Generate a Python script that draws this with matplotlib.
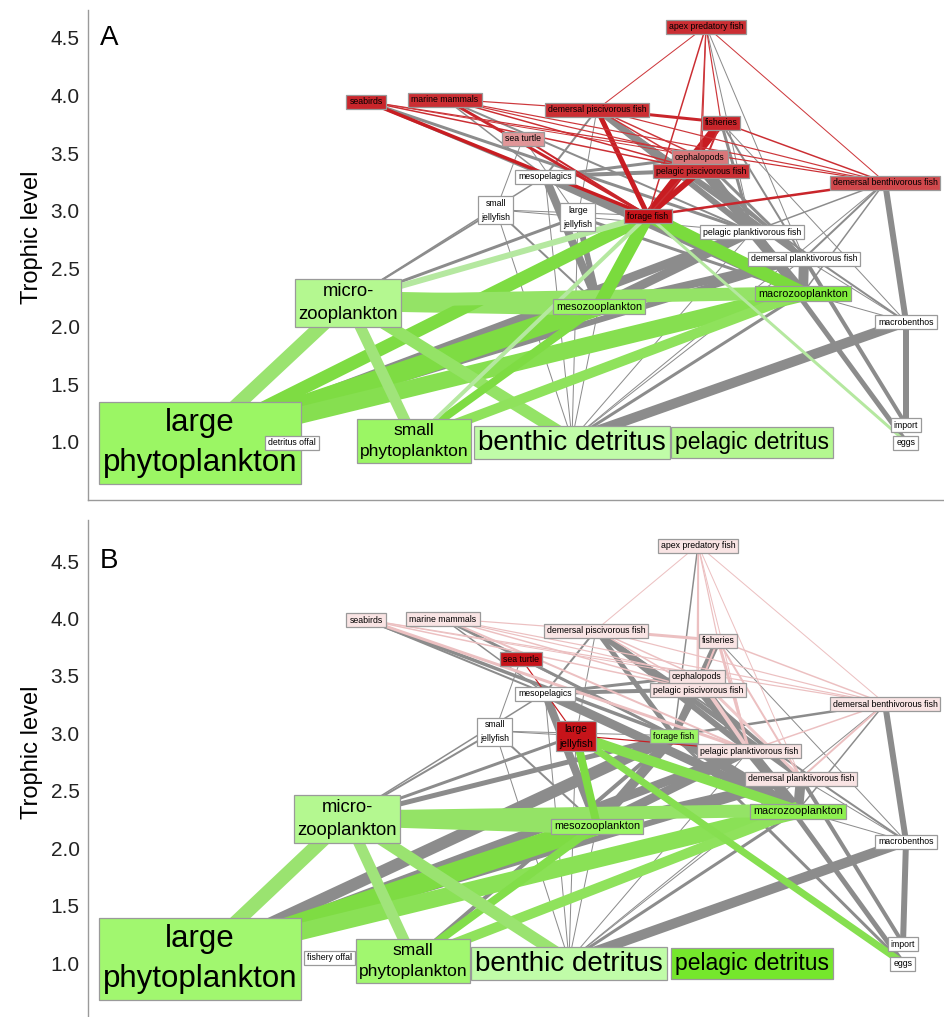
import matplotlib
matplotlib.use("Agg")
import matplotlib.pyplot as plt
from matplotlib.patches import Rectangle
from matplotlib.transforms import offset_copy, Bbox

# ---------------- data ----------------
node_keys = ["apex", "sbrd", "mamm", "dpis", "fish", "turt", "ceph", "ppis", "mpel",
             "dben", "sjel", "ljel", "forf", "ppla", "dpla", "micz", "mesz", "macz",
             "mben", "lphy", "offl", "sphy", "bdet", "pdet", "impo", "eggs"]

labels_a = ["apex predatory fish", "seabirds", "marine mammals", "demersal piscivorous fish",
            "fisheries", "sea turtle", "cephalopods", "pelagic piscivorous fish", "mesopelagics",
            "demersal benthivorous fish", "small\njellyfish", "large\njellyfish", "forage fish",
            "pelagic planktivorous fish", "demersal planktivorous fish", "micro-\nzooplankton",
            "mesozooplankton", "macrozooplankton", "macrobenthos", "large\nphytoplankton",
            "detritus offal", "small\nphytoplankton", "benthic detritus", "pelagic detritus",
            "import", "eggs"]
labels_b = labels_a[:20] + ["fishery offal"] + labels_a[21:]

trophic_a = [4.60, 3.95, 3.97, 3.88, 3.77, 3.63, 3.47, 3.35, 3.30, 3.25, 3.01, 2.95, 2.96,
             2.82, 2.59, 2.22, 2.18, 2.29, 2.04, 1.02, 1.00, 1.02, 1.02, 1.01, 1.15, 1.00]
trophic_b = [4.64, 3.99, 4.00, 3.90, 3.81, 3.65, 3.50, 3.38, 3.35, 3.26, 3.02, 2.98, 2.98,
             2.85, 2.61, 2.27, 2.20, 2.33, 2.06, 1.06, 1.05, 1.03, 1.02, 1.01, 1.17, 1.00]

# relative impact of the perturbation on each group (negative = decrease, positive = increase)
impact_a = [-0.85, -0.9, -0.85, -0.85, -0.9, -0.45, -0.55, -0.85, 0, -0.7, 0, 0, -1.0,
            0, 0, 0.35, 0.55, 0.85, 0, 0.55, 0, 0.55, 0.25, 0.35, 0, 0]
impact_b = [-0.1, -0.1, -0.1, -0.1, -0.1, -1.0, -0.1, -0.1, 0, -0.1, 0, -1.0, 0.55,
            -0.1, -0.1, 0.35, 0.55, 0.7, 0, 0.5, 0, 0.5, 0.25, 0.95, 0, 0]

# flows: (prey, predator, flow in panel A, flow in panel B)
links = [
    ("lphy", "micz", 14, 14), ("lphy", "mesz", 20, 20), ("lphy", "macz", 17, 17),
    ("lphy", "forf", 13, 12), ("micz", "mesz", 20, 18), ("micz", "macz", 13, 13),
    ("micz", "forf", 6, 5), ("sphy", "micz", 11, 11), ("sphy", "mesz", 8, 8),
    ("sphy", "macz", 10, 10), ("sphy", "forf", 4, 4), ("mesz", "forf", 13, 10),
    ("macz", "forf", 13, 10), ("micz", "bdet", 12, 12), ("eggs", "forf", 3, 3),
    ("forf", "sbrd", 3.5, 3.5), ("forf", "mamm", 3, 3), ("forf", "dpis", 5, 5),
    ("forf", "fish", 9, 7), ("forf", "ppis", 6, 6), ("forf", "dben", 2.5, 2.5),
    ("forf", "apex", 1.5, 1.5), ("forf", "turt", 2, 1.5), ("forf", "ceph", 1.5, 1.5),
    ("ceph", "apex", 1.2, 1.2), ("ppis", "apex", 1.2, 1.2), ("dpis", "apex", 1.0, 1.0),
    ("dben", "apex", 1.0, 1.0), ("apex", "fish", 1.2, 1.2), ("dpis", "fish", 3, 3),
    ("dben", "fish", 1.5, 1.5), ("ppis", "sbrd", 1.5, 1.5), ("dben", "sbrd", 1.2, 1.2),
    ("ppis", "mamm", 1.5, 1.5), ("ceph", "mamm", 1.2, 1.2), ("dpis", "mamm", 1.2, 1.2),
    ("dben", "mamm", 1.2, 1.2), ("ceph", "dpis", 1.5, 1.5), ("ppis", "dpis", 1.5, 1.5),
    ("dben", "dpis", 1.2, 1.2), ("ceph", "sbrd", 1.0, 1.0), ("ppis", "fish", 2, 2),
    ("bdet", "mben", 10, 10), ("mben", "dben", 6, 6), ("impo", "mben", 6, 6),
    ("mesz", "mpel", 8, 8), ("macz", "mpel", 9, 9), ("mesz", "ppla", 9, 9),
    ("macz", "ppla", 10, 10), ("mesz", "dpla", 8, 8), ("macz", "dpla", 10, 10),
    ("lphy", "ppla", 9, 9), ("lphy", "dpla", 6, 6), ("micz", "ljel", 3, 3),
    ("mesz", "ljel", 6, 8), ("micz", "sjel", 2, 2), ("mesz", "sjel", 2, 2),
    ("macz", "ljel", 3, 10), ("bdet", "sjel", 1, 1), ("bdet", "ljel", 1, 1),
    ("bdet", "mpel", 1, 1), ("bdet", "mesz", 1, 1), ("bdet", "macz", 3, 3),
    ("bdet", "dpla", 1, 1), ("bdet", "ppla", 1, 1), ("bdet", "dben", 1, 1),
    ("mpel", "ppis", 4, 4), ("mpel", "dpis", 2, 2), ("mpel", "sbrd", 2, 2),
    ("mpel", "mamm", 1.5, 1.5), ("mpel", "ceph", 3, 3), ("sjel", "ljel", 1, 1),
    ("sjel", "forf", 1, 1), ("sjel", "turt", 1, 1), ("ljel", "turt", 1, 1.2),
    ("ljel", "ppla", 1, 1.2), ("eggs", "ljel", 0, 7),
    ("ppla", "ppis", 6, 6), ("ppla", "dpis", 6, 6), ("ppla", "ceph", 4, 4),
    ("ppla", "mamm", 2, 2), ("ppla", "sbrd", 3, 3), ("ppla", "apex", 1, 1),
    ("ppla", "fish", 3, 3), ("ppla", "dben", 1.5, 1.5), ("dpla", "dpis", 5, 5),
    ("dpla", "ppis", 4, 4), ("dpla", "ceph", 3, 3), ("dpla", "dben", 2, 2),
    ("dpla", "apex", 1, 1), ("dpla", "fish", 2, 2), ("mben", "dpis", 2, 2),
    ("mben", "fish", 1, 1), ("macz", "ceph", 4, 4), ("macz", "dben", 1.5, 1.5),
    ("macz", "mben", 1, 1), ("eggs", "ppla", 5, 5), ("impo", "dpla", 4, 4),
    ("macz", "ppis", 3, 3), ("micz", "mpel", 1.5, 1.5), ("ljel", "dpis", 1, 1),
    ("mben", "dpla", 1, 1),
]

# change in each flow (0 = unchanged)
change_a = {
    ("lphy", "micz"): 0.45, ("lphy", "mesz"): 0.75, ("lphy", "macz"): 0.65,
    ("lphy", "forf"): 0.75, ("micz", "mesz"): 0.5, ("micz", "macz"): 0.5,
    ("micz", "forf"): 0.2, ("sphy", "micz"): 0.4, ("sphy", "mesz"): 0.75,
    ("sphy", "macz"): 0.55, ("sphy", "forf"): 0.2, ("mesz", "forf"): 0.8,
    ("macz", "forf"): 0.8, ("micz", "bdet"): 0.5, ("eggs", "forf"): 0.2,
    ("forf", "sbrd"): -0.95, ("forf", "mamm"): -0.9, ("forf", "dpis"): -0.95,
    ("forf", "fish"): -0.95, ("forf", "ppis"): -0.95, ("forf", "dben"): -0.9,
    ("forf", "apex"): -0.85, ("forf", "turt"): -0.9, ("forf", "ceph"): -0.85,
    ("ceph", "apex"): -0.8, ("ppis", "apex"): -0.8, ("dpis", "apex"): -0.8,
    ("dben", "apex"): -0.8, ("apex", "fish"): -0.8, ("dpis", "fish"): -0.9,
    ("dben", "fish"): -0.85, ("ppis", "sbrd"): -0.85, ("dben", "sbrd"): -0.85,
    ("ppis", "mamm"): -0.85, ("ceph", "mamm"): -0.8, ("dpis", "mamm"): -0.8,
    ("dben", "mamm"): -0.8, ("ceph", "dpis"): -0.8, ("ppis", "dpis"): -0.8,
    ("dben", "dpis"): -0.8, ("ceph", "sbrd"): -0.8, ("ppis", "fish"): -0.85,
}
change_b = {
    ("lphy", "micz"): 0.45, ("lphy", "mesz"): 0.75, ("lphy", "macz"): 0.6,
    ("micz", "mesz"): 0.5, ("micz", "macz"): 0.5, ("sphy", "micz"): 0.4,
    ("sphy", "mesz"): 0.7, ("sphy", "macz"): 0.55, ("micz", "bdet"): 0.45,
    ("mesz", "ljel"): 0.75, ("macz", "ljel"): 0.65, ("eggs", "ljel"): 0.65,
    ("ljel", "turt"): -0.95, ("ljel", "ppla"): -0.95,
    ("ceph", "apex"): -0.3, ("ppis", "apex"): -0.3, ("dpis", "apex"): -0.3,
    ("dben", "apex"): -0.3, ("apex", "fish"): -0.3, ("dpis", "fish"): -0.3,
    ("dben", "fish"): -0.3, ("ppis", "sbrd"): -0.3, ("dben", "sbrd"): -0.3,
    ("ppis", "mamm"): -0.3, ("ceph", "mamm"): -0.3, ("dpis", "mamm"): -0.3,
    ("dben", "mamm"): -0.3, ("ceph", "dpis"): -0.3, ("ppis", "dpis"): -0.3,
    ("dben", "dpis"): -0.3, ("ceph", "sbrd"): -0.3, ("ppis", "fish"): -0.3,
    ("ppla", "mamm"): -0.3, ("ppla", "sbrd"): -0.3, ("ppla", "apex"): -0.3,
    ("ppla", "fish"): -0.3, ("ppla", "dben"): -0.3, ("ppla", "ceph"): -0.25,
    ("dpla", "ceph"): -0.25, ("dpla", "dben"): -0.3, ("dpla", "apex"): -0.3,
    ("dpla", "fish"): -0.3,
}

ticks = [1.0, 1.5, 2.0, 2.5, 3.0, 3.5, 4.0, 4.5]

# ---------------- layout / style ----------------
layout_x_a = [706, 366, 445, 597, 721, 523, 700, 701, 545, 885, 496, 578, 648, 752, 804,
              348, 599, 803, 906, 200, 292, 414, 572, 752, 906, 906]
layout_x_b = [698, 366, 443, 596, 718, 521, 697, 698, 545, 885, 495, 576, 674, 749, 801,
              347, 597, 798, 906, 200, 330, 413, 569, 752, 903, 903]

plt.rcParams["font.family"] = ["Liberation Sans", "DejaVu Sans"]

font_size = {"lphy": 22.5, "bdet": 20, "pdet": 16.5, "micz": 13.3, "sphy": 12.5,
             "mesz": 7.8, "macz": 7.8}
line_gap_px = {"lphy": 40, "micz": 23, "sphy": 21, "sjel": 14, "ljel": 14}
box_pad_px = {"lphy": (4, 6), "bdet": (4, 3.5), "pdet": (4, 4), "micz": (3, 4),
              "sphy": (3, 4)}
small_font = 6.3

NEG = [(0.0, (255, 255, 255)), (0.1, (249, 228, 228)), (0.3, (236, 192, 193)),
       (0.45, (224, 150, 152)), (0.7, (208, 72, 76)), (1.0, (198, 20, 26))]
POS = [(0.0, (255, 255, 255)), (0.1, (205, 252, 185)), (0.25, (192, 252, 168)),
       (0.35, (180, 248, 144)), (0.55, (155, 246, 100)), (0.85, (128, 236, 60)),
       (1.0, (112, 228, 36))]


def ramp(v):
    stops = NEG if v < 0 else POS
    a = abs(v)
    for (p0, c0), (p1, c1) in zip(stops[:-1], stops[1:]):
        if a <= p1:
            t = (a - p0) / (p1 - p0)
            return tuple((c0[i] + t * (c1[i] - c0[i])) / 255 for i in range(3))
    return tuple(c / 255 for c in stops[-1][1])


def edge_color(v):
    if v == 0:
        return "#8c8c8c"
    c = ramp(v)
    if v > 0:
        return tuple(ch * 0.92 for ch in c)
    return c


DPI = 100
fig = plt.figure(figsize=(9.44, 10.17), dpi=DPI)
W, H = 944.0, 1017.0
PT = DPI / 72.0  # pixels per point

pending_boxes = []  # (ax, texts, pad, facecolor, zorder)


def panel(top, bottom, ylim, xs, tls, labs, impacts, flow_idx, changes, letter, bottom_spine):
    ax = fig.add_axes([88 / W, 1 - bottom / H, (W - 88) / W, (bottom - top) / H])
    ax.set_xlim(88, 944)
    ax.set_ylim(*ylim)
    pos = {k: (xs[i], tls[i]) for i, k in enumerate(node_keys)}
    grey, colored = [], []
    for ln in links:
        prey, pred = ln[0], ln[1]
        w = ln[flow_idx]
        if w <= 0:
            continue
        ch = changes.get((prey, pred), 0)
        (grey if ch == 0 else colored).append((prey, pred, w, ch))
    grey.sort(key=lambda e: -e[2])
    colored.sort(key=lambda e: (abs(e[3]) < 0.5, -e[2]))
    for z, group in ((1, grey), (2, colored)):
        for prey, pred, w, ch in group:
            (x1, y1), (x2, y2) = pos[prey], pos[pred]
            ax.plot([x1, x2], [y1, y2], color=edge_color(ch), lw=w / PT,
                    solid_capstyle="butt", zorder=z)
    for i, k in enumerate(node_keys):
        fs = font_size.get(k, small_font)
        gap = line_gap_px.get(k, 12)
        if letter == "B" and k == "ljel":
            fs, gap = 7.4, 15
        lines = labs[i].split("\n")
        n = len(lines)
        z = 6 if k == "offl" else 5
        texts = []
        for j, line in enumerate(lines):
            dy_px = ((n - 1) / 2 - j) * gap - 0.36 * fs * PT
            tr = offset_copy(ax.transData, fig=fig, x=0, y=dy_px / PT, units="points")
            texts.append(ax.text(xs[i], tls[i], line, ha="center", va="baseline",
                                 fontsize=fs, color="black", transform=tr,
                                 zorder=z + 0.1, clip_on=False))
        pending_boxes.append((ax, texts, box_pad_px.get(k, (3, 2.5)),
                              ramp(impacts[i]), z))
    for s in ("top", "right"):
        ax.spines[s].set_visible(False)
    ax.spines["bottom"].set_visible(bottom_spine)
    for s in ("left", "bottom"):
        ax.spines[s].set_color("#9a9a9a")
        ax.spines[s].set_linewidth(1.0)
    ax.set_xticks([])
    ax.set_yticks(ticks)
    ax.set_yticklabels([f"{t:.1f}" for t in ticks], fontsize=15, color="#222222")
    ax.tick_params(axis="y", length=0, pad=6)
    ax.text(0.014, 4.5, letter, fontsize=20, va="center",
            ha="left", transform=ax.get_yaxis_transform())
    ax.set_facecolor("none")
    return ax


panel(10, 500, (0.497, 4.74), layout_x_a, trophic_a, labels_a, impact_a, 2, change_a, "A", True)
panel(520, 1017, (0.530, 4.857), layout_x_b, trophic_b, labels_b, impact_b, 3, change_b, "B", False)

fig.text(32 / W, 1 - 237 / H, "Trophic level", rotation=90, fontsize=17,
         ha="center", va="center")
fig.text(32 / W, 1 - 752 / H, "Trophic level", rotation=90, fontsize=17,
         ha="center", va="center")

# node boxes sized from the rendered label extents
fig.canvas.draw()
renderer = fig.canvas.get_renderer()
for ax, texts, (padx, pady), fc, z in pending_boxes:
    bb = Bbox.union([t.get_window_extent(renderer) for t in texts])
    x0, y0 = bb.x0 - padx, bb.y0 - pady
    x1, y1 = bb.x1 + padx, bb.y1 + pady
    inv = ax.transData.inverted()
    (dx0, dy0), (dx1, dy1) = inv.transform([(x0, y0), (x1, y1)])
    ax.add_patch(Rectangle((dx0, dy0), dx1 - dx0, dy1 - dy0, facecolor=fc,
                           edgecolor="#9a9a9a", lw=0.9, zorder=z, clip_on=False))

fig.savefig("out.png", dpi=DPI)
